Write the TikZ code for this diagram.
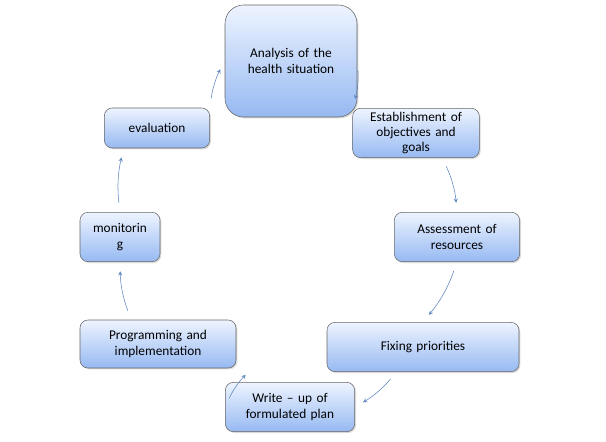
\documentclass[tikz,border=0pt]{standalone}
\usepackage{fontspec}
\setmainfont{Carlito}
\usetikzlibrary{shadows}
\definecolor{boxtop}{RGB}{238,244,255}
\definecolor{boxbot}{RGB}{150,185,242}
\definecolor{arr}{RGB}{90,130,190}
\tikzset{
  stage/.style={draw=black!60, rounded corners=6pt, top color=boxtop, bottom color=boxbot,
    align=center, font=\fontsize{10}{11.5}\selectfont, inner sep=2pt,
    drop shadow={shadow xshift=1pt, shadow yshift=-1pt, opacity=.3}},
  flow/.style={->, arr, thin, >=stealth, shorten >=7pt, shorten <=7pt}
}
\begin{document}
\begin{tikzpicture}[x=0.75pt,y=-0.75pt]
\useasboundingbox (0,0) rectangle (606,442);
\node[stage, minimum width=99pt, minimum height=84pt, rounded corners=14pt, text width=90pt] (analysis) at (291,61) {Analysis of the\\health situation\\[6pt]};
\node[stage, minimum width=95pt, minimum height=37pt, text width=90pt] (establish) at (416,133) {Establishment of\\objectives and\\goals};
\node[stage, minimum width=94pt, minimum height=37pt, text width=88pt] (assess) at (457,237) {Assessment of\\resources};
\node[stage, minimum width=144pt, minimum height=37pt, text width=135pt] (fixing) at (423,347) {Fixing priorities};
\node[stage, minimum width=97pt, minimum height=37pt, text width=92pt] (writeup) at (290,407) {Write -- up of\\formulated plan};
\node[stage, minimum width=117pt, minimum height=36pt, text width=110pt] (program) at (158,344) {Programming and\\implementation};
\node[stage, minimum width=60pt, minimum height=37pt, text width=52pt] (monitor) at (120,237) {monitorin\\g};
\node[stage, minimum width=79pt, minimum height=30pt, text width=72pt] (evaluation) at (157,128) {evaluation};

\draw[flow] (evaluation.north east) to[bend left=10] (analysis.west);
\draw[flow] (analysis.east) to[bend left=10] (establish.north west);
\draw[flow] ([xshift=-28pt]establish.south east) to[bend left=10] (assess.north);
\draw[flow] (assess.south) to[bend left=10] (fixing.north);
\draw[flow] ([xshift=-20pt]fixing.south) to[bend left=10] (writeup.east);
\draw[flow] (writeup.west) to[bend left=10] ([xshift=12pt]program.south east);
\draw[flow] ([xshift=-20pt]program.north) to[bend left=10] (monitor.south);
\draw[flow] (monitor.north) to[bend left=10] ([xshift=-25pt]evaluation.south);
\end{tikzpicture}
\end{document}
